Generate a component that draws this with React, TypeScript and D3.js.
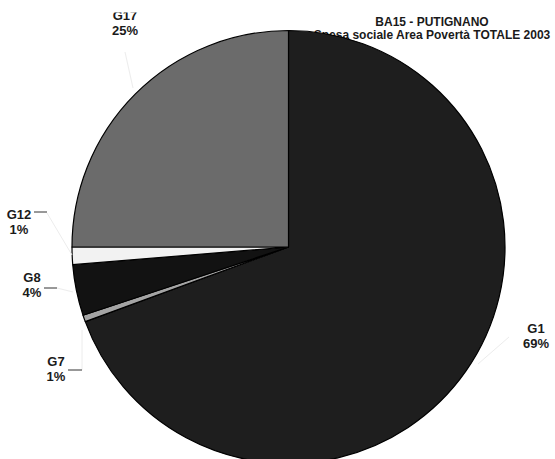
import React from "react";
import * as d3 from "d3";

const categories = ["G1", "G7", "G8", "G12", "G17"];
const values = [69.4, 0.5, 3.8, 1.3, 25.0];
const percentLabels = ["69%", "1%", "4%", "1%", "25%"];
const colors = ["#1e1e1e", "#a4a4a4", "#121212", "#f2f2f2", "#6b6b6b"];
const titleLines = ["BA15 - PUTIGNANO", "Spesa sociale Area Povertà TOTALE 2003"];

// label layout (text anchor centre x, first baseline y) + dash & faint leader
const labelLayout: Record<string, { x: number; y: number; dash?: [number, number, number]; lead?: [number, number, number, number] }> = {
  G1: { x: 536, y: 333, lead: [509, 337, 478, 364] },
  G7: { x: 56, y: 366, dash: [68, 82, 370], lead: [82, 370, 82, 330] },
  G8: { x: 32, y: 282, dash: [44, 57, 288], lead: [57, 288, 73, 292] },
  G12: { x: 19, y: 219, dash: [34, 47, 212], lead: [47, 213, 72, 255] },
  G17: { x: 125, y: 19.5, lead: [125, 52, 133, 88] },
};

const W = 555;
const H = 459;
const cx = 288.5;
const cy = 247;
const R = 216.5;

export default function App() {
  const data = categories.map((c, i) => ({ c, v: values[i], p: percentLabels[i], color: colors[i] }));
  const pie = d3.pie<any>().sort(null).value((d) => d.v).startAngle(0).endAngle(2 * Math.PI);
  const arc = d3.arc<any>().innerRadius(0).outerRadius(R);
  const arcs = pie(data);
  const font = "Arial, 'Liberation Sans', Helvetica, sans-serif";
  return (
    <svg width={W} height={H} style={{ position: "absolute", left: 0, top: 0 }}>
      <defs>
        <clipPath id="plotclip">
          <rect x={0} y={12.5} width={W} height={H} />
        </clipPath>
      </defs>
      <rect x={0} y={0} width={W} height={H} fill="#ffffff" />
      <g fontFamily={font} fontWeight="bold" fontSize={12} fill="#1a1a1a" textAnchor="middle">
        {titleLines.map((t, i) => (
          <text key={i} x={432} y={26 + i * 12.5}>{t}</text>
        ))}
      </g>
      <g transform={`translate(${cx},${cy})`}>
        {arcs.map((a, i) => (
          <path key={i} d={arc(a) as string} fill={a.data.color} stroke="#000" strokeWidth={1.2} strokeLinejoin="round" />
        ))}
      </g>
      <g clipPath="url(#plotclip)">
        {data.map((d) => {
          const L = labelLayout[d.c];
          return (
            <g key={d.c}>
              {L.lead && (
                <line x1={L.lead[0]} y1={L.lead[1]} x2={L.lead[2]} y2={L.lead[3]} stroke="#ececec" strokeWidth={1} />
              )}
              {L.dash && <line x1={L.dash[0]} x2={L.dash[1]} y1={L.dash[2]} y2={L.dash[2]} stroke="#333" strokeWidth={1} />}
              <text x={L.x} y={L.y} fontFamily={font} fontWeight="bold" fontSize={13} fill="#1a1a1a" textAnchor="middle">
                {d.c}
              </text>
              <text x={L.x} y={L.y + 15} fontFamily={font} fontWeight="bold" fontSize={13} fill="#1a1a1a" textAnchor="middle">
                {d.p}
              </text>
            </g>
          );
        })}
      </g>
    </svg>
  );
}
